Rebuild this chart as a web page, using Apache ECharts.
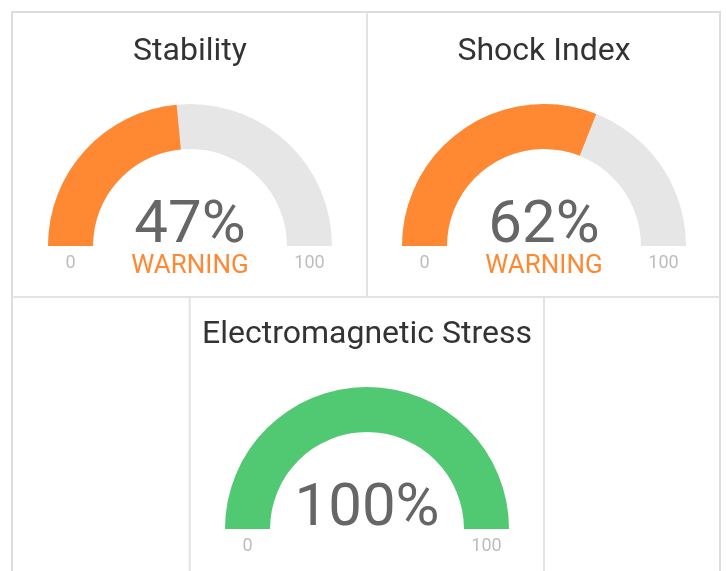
<!DOCTYPE html>
<html>
<head>
<meta charset="utf-8">
<script src="https://cdn.jsdelivr.net/npm/echarts@6/dist/echarts.min.js"></script>
<style>
  html, body { margin: 0; padding: 0; background: #ffffff; }
  #chart { width: 726px; height: 571px; }
</style>
</head>
<body>
<div id="chart"></div>
<script>
// ---- data ----
const gaugeNames = ['Stability', 'Shock Index', 'Electromagnetic Stress'];
const gaugeValues = [47, 62, 100];
const gaugeStatus = ['WARNING', 'WARNING', ''];
const axisMin = 0;
const axisMax = 100;

// ---- styles / layout ----
const fillColors = ['#FF8833', '#FF8833', '#51C972'];
const centers = [[190, 246], [544, 246], [367, 529]];
const valueOffsets = [-6, -6, -19];
const FONT = 'Roboto';
const RADIUS = 142;
const BAND = 45;

const chart = echarts.init(document.getElementById('chart'), null, { renderer: 'canvas' });

const series = gaugeNames.map((name, i) => ({
  type: 'gauge',
  center: centers[i],
  radius: RADIUS,
  startAngle: 180,
  endAngle: 0,
  min: axisMin,
  max: axisMax,
  splitNumber: 1,
  animation: false,
  axisLine: { lineStyle: { width: BAND, color: [[1, '#E6E6E6']] } },
  progress: { show: true, width: BAND, roundCap: false, itemStyle: { color: fillColors[i] } },
  pointer: { show: false },
  anchor: { show: false },
  axisTick: { show: false },
  splitLine: { show: false, length: 0, distance: 0 },
  axisLabel: {
    show: true,
    distance: 2.5,
    fontFamily: FONT,
    fontSize: 18,
    color: '#BDBDBD',
    formatter: v => '{t|' + v + '}',
    rich: {
      t: { width: 40, align: 'center', padding: [34, 0, 0, 0], fontFamily: FONT, fontSize: 18, color: '#BDBDBD' }
    }
  },
  title: {
    show: true,
    offsetCenter: [0, -194],
    fontFamily: FONT,
    fontSize: 32,
    fontWeight: 'normal',
    color: '#333333'
  },
  detail: {
    show: true,
    offsetCenter: [0, valueOffsets[i]],
    width: 300,
    padding: 0,
    fontFamily: FONT,
    fontWeight: 'normal',
    formatter: v => gaugeStatus[i]
      ? '{v|' + v + '%}\n{w|' + gaugeStatus[i] + '}'
      : '{v|' + v + '%}',
    rich: {
      v: { fontFamily: FONT, fontSize: 60, lineHeight: 52, color: '#666666', fontWeight: 'normal' },
      w: { fontFamily: FONT, fontSize: 26, lineHeight: 26, color: fillColors[i], fontWeight: 'normal' }
    }
  },
  data: [{ value: gaugeValues[i], name: name }]
}));

const borderColor = '#DDDDDD';
const graphic = [
  { type: 'rect', shape: { x: 12, y: 12, width: 708, height: 600 }, style: { fill: null, stroke: borderColor, lineWidth: 2 }, z: -1 },
  { type: 'line', shape: { x1: 367, y1: 12, x2: 367, y2: 297 }, style: { stroke: '#E3E3E3', lineWidth: 2 } },
  { type: 'line', shape: { x1: 12, y1: 297, x2: 720, y2: 297 }, style: { stroke: '#E3E3E3', lineWidth: 2 } },
  { type: 'line', shape: { x1: 189.7, y1: 297, x2: 189.7, y2: 571 }, style: { stroke: '#E3E3E3', lineWidth: 2 } },
  { type: 'line', shape: { x1: 544, y1: 297, x2: 544, y2: 571 }, style: { stroke: '#E3E3E3', lineWidth: 2 } }
];

chart.setOption({
  animation: false,
  backgroundColor: '#FFFFFF',
  textStyle: { fontFamily: FONT },
  graphic: graphic,
  series: series
});
</script>
</body>
</html>
